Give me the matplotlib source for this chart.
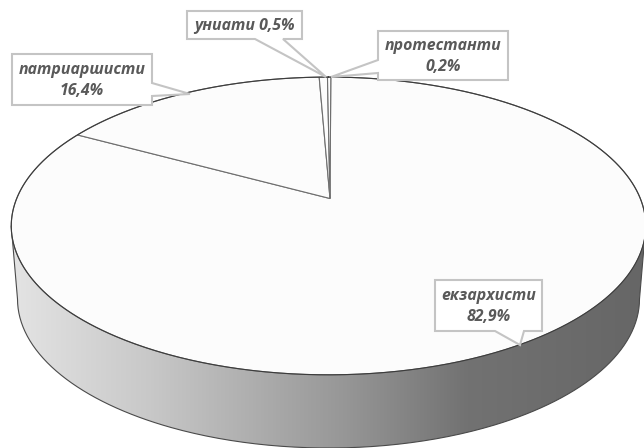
import numpy as np
import matplotlib
matplotlib.use("Agg")
import matplotlib.pyplot as plt
from matplotlib.patches import Polygon

categories = ["екзархисти", "патриаршисти", "униати", "протестанти"]
values = [82.9, 16.4, 0.5, 0.2]
value_labels = ["82,9%", "16,4%", "0,5%", "0,2%"]

CX, CY, R, A, D = 328.5, 199.0, 312.0, 144.0, 0.181
APEX = (330.0, 198.5)
START = 0.5
DEPTH_CY, DEPTH_RX, DEPTH_RY = 299.0, 311.0, 149.0


def project(theta_deg):
    t = np.radians(theta_deg)
    u, v = np.sin(t), np.cos(t)
    den = 1 + D * v
    return CX + R * u / den, CY - A * v / den


fig = plt.figure(figsize=(6.44, 4.48), dpi=100)
ax = fig.add_axes([0, 0, 1, 1])
ax.set_xlim(0, 644)
ax.set_ylim(448, 0)
ax.axis("off")

# side wall
tt = np.linspace(0, 360, 721)
tx, ty = project(tt)
il, ir = np.argmin(tx), np.argmax(tx)
phi = np.radians(np.linspace(180, 0, 300))
bx = CX + DEPTH_RX * np.cos(phi)
by = DEPTH_CY + DEPTH_RY * np.sin(phi)
side_xy = np.vstack([[tx[il], ty[il]], np.column_stack([bx, by]), [tx[ir], ty[ir]]])
side = Polygon(side_xy, closed=True, fc="none", ec="none", transform=ax.transData)
ax.add_patch(side)
grad = np.linspace(0, 1, 256).reshape(1, -1)
cmap = matplotlib.colors.LinearSegmentedColormap.from_list(
    "g", [(0.0, "#e4e4e4"), (0.22, "#c8c8c8"), (0.53, "#969696"),
          (0.72, "#727272"), (1.0, "#666666")])
im = ax.imshow(grad, extent=[10, 646, 448, 200], cmap=cmap, aspect="auto", zorder=1)
im.set_clip_path(side)
ax.set_xlim(0, 644)
ax.set_ylim(448, 0)
ax.plot(side_xy[:, 0], side_xy[:, 1], color="#4a4a4a", lw=0.8, zorder=2)

# top slices (clockwise from the top)
edges = START + np.concatenate([[0], np.cumsum(values)]) * 3.6
for a0, a1 in zip(edges[:-1], edges[1:]):
    th = np.linspace(a0, a1, max(3, int((a1 - a0) * 3)))
    px, py = project(th)
    xy = np.vstack([APEX, np.column_stack([px, py])])
    ax.add_patch(Polygon(xy, closed=True, fc="#fcfcfc", ec="#6e6e6e", lw=0.8, zorder=3))
ax.plot(tx, ty, color="#3c3c3c", lw=0.8, zorder=4)

# callouts: box (x0, y0, x1, y1), pointer base (two points), tip
callouts = {
    "екзархисти": ((435, 280, 542, 331), (495, 331), (524, 331), (520, 345), 2),
    "патриаршисти": ((12, 54, 152, 105), (152, 83), (152, 96), (190, 94), 2),
    "униати": ((187, 11, 302, 39), (255, 39), (283, 39), (326, 77), 1),
    "протестанти": ((378, 31, 508, 80), (378, 60), (378, 73), (331, 77), 2),
}
for name, val in zip(categories, value_labels):
    (x0, y0, x1, y1), p, q, tip, lines = callouts[name]
    if p[1] == y1:  # pointer on bottom side
        poly = [(x0, y0), (x1, y0), (x1, y1), q, tip, p, (x0, y1)]
    elif p[0] == x1:  # right side
        poly = [(x0, y0), (x1, y0), p, tip, q, (x1, y1), (x0, y1)]
    else:  # left side
        poly = [(x0, y0), (x1, y0), (x1, y1), (x0, y1), q, tip, p]
    ax.add_patch(Polygon(poly, closed=True, fc="white", ec="#c4c4c4", lw=1.5, zorder=5))
    s = f"{name}\n{val}" if lines == 2 else f"{name} {val}"
    ax.text((x0 + x1) / 2, (y0 + y1) / 2 + 1.2, s, ha="center", va="center", zorder=6,
            family="Open Sans", style="italic", weight="bold", fontsize=11.4,
            color="#595959", linespacing=1.42)

fig.savefig("out.png", dpi=100)
